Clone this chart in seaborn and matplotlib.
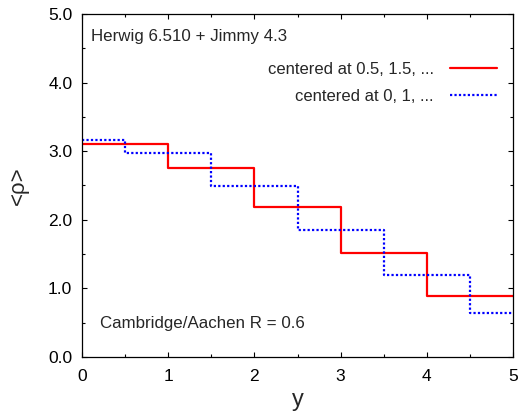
import matplotlib
matplotlib.use("Agg")
import matplotlib.pyplot as plt
import seaborn as sns
import pandas as pd
from matplotlib.ticker import MultipleLocator, FormatStrFormatter

# Data
red_edges = [0, 1, 2, 3, 4, 5]
red_values = [3.11, 2.76, 2.18, 1.51, 0.89]
blue_edges = [0, 0.5, 1.5, 2.5, 3.5, 4.5, 5]
blue_values = [3.16, 2.98, 2.49, 1.85, 1.195, 0.64]
red_label = "centered at 0.5, 1.5, ..."
blue_label = "centered at 0, 1, ..."

sns.set_style("ticks")
plt.rcParams['font.family'] = ['Liberation Sans', 'DejaVu Sans']

fig = plt.figure(figsize=(5.28, 4.12), dpi=100)
ax = fig.add_axes([82/528, 55/412, (513-82)/528, (357-14)/412])

red_df = pd.DataFrame({"x": red_edges, "y": red_values + [red_values[-1]]})
blue_df = pd.DataFrame({"x": blue_edges, "y": blue_values + [blue_values[-1]]})

sns.lineplot(data=red_df, x="x", y="y", ax=ax, color="#ff0000", lw=1.6,
             drawstyle="steps-post", label=red_label, sort=False)
sns.lineplot(data=blue_df, x="x", y="y", ax=ax, color="#0000ff", lw=1.6,
             linestyle=(0, (1, 1)), drawstyle="steps-post", label=blue_label, sort=False)

ax.set_xlim(0, 5)
ax.set_ylim(0, 5)
ax.xaxis.set_major_locator(MultipleLocator(1))
ax.xaxis.set_minor_locator(MultipleLocator(0.5))
ax.yaxis.set_major_locator(MultipleLocator(1))
ax.yaxis.set_minor_locator(MultipleLocator(0.5))
ax.yaxis.set_major_formatter(FormatStrFormatter("%.1f"))
ax.tick_params(which="both", direction="in", top=True, right=True, labelsize=12.5, colors="black")
ax.tick_params(which="major", length=3.5, width=0.8)
ax.tick_params(axis="x", which="major", pad=8.5)
ax.tick_params(axis="y", which="major", pad=7)
ax.tick_params(which="minor", length=2.5, width=0.8)
for s in ax.spines.values():
    s.set_visible(True)
    s.set_linewidth(0.9)
    s.set_color("black")

ax.set_xlabel("y", fontsize=17, labelpad=3.5)
ax.set_ylabel("<ρ>", fontsize=16, labelpad=14)

ax.text(0.02, 0.935, "Herwig 6.510 + Jimmy 4.3", transform=ax.transAxes, fontsize=12.2,
        ha="left", va="center")
ax.text(0.042, 0.098, "Cambridge/Aachen R = 0.6", transform=ax.transAxes, fontsize=12.2,
        ha="left", va="center")

leg = ax.legend(loc="upper right", bbox_to_anchor=(0.963, 0.86), markerfirst=False,
                frameon=False, fontsize=12, handlelength=2.8, handletextpad=1.0,
                labelspacing=0.7, borderaxespad=0, borderpad=0)

fig.savefig("out.png", dpi=100)
